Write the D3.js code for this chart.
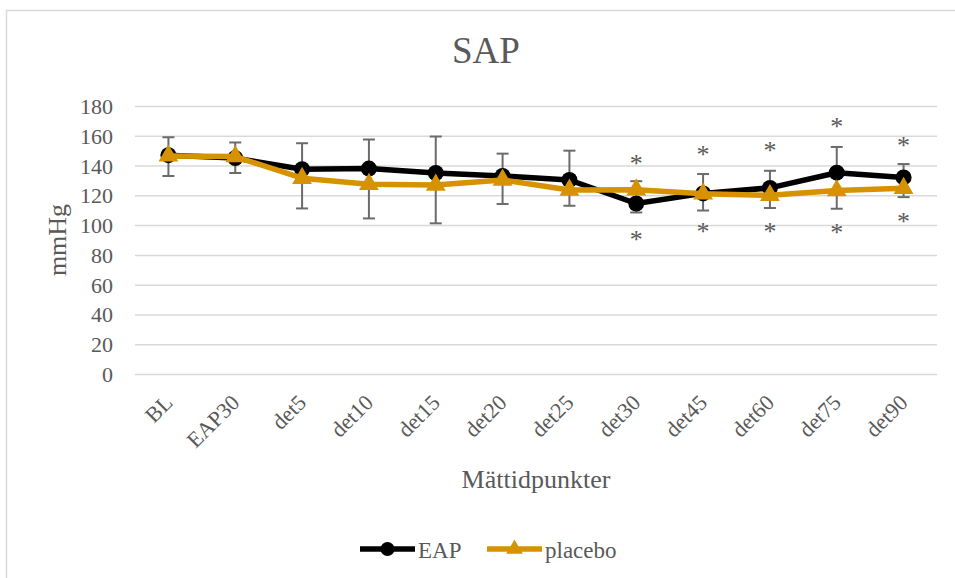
<!DOCTYPE html>
<html lang="sv">
	<head>
		<meta charset="utf-8">
		<title>SAP</title>
		<script type="text/javascript" src="https://cdn.jsdelivr.net/npm/d3@7"></script>
		<style type="text/css">
			body {
				margin: 0;
				background: #fff;
			}
			svg text {
				font-family: "Liberation Serif", "Times New Roman", serif;
				fill: #595959;
			}
		</style>
	</head>
	<body>
		<div id="chart"></div>
		<script type="text/javascript">

			// data
			var categories = ["BL", "EAP30", "det5", "det10", "det15", "det20", "det25", "det30", "det45", "det60", "det75", "det90"];
			var eap = [147, 145, 137.5, 138, 135, 133, 130.3, 114.5, 121.3, 125, 135.2, 132];
			var placebo = [146.5, 146, 131.5, 127.5, 127, 130.3, 123.6, 123.8, 121, 120, 123.2, 124.8];
			var errHigh = [159, 155.5, 155, 157.5, 159.5, 148, 150, 129.5, 134.3, 136.5, 152.5, 141];
			var errLow = [133, 135, 111.2, 104.5, 101.2, 114.2, 113, 108.5, 109.8, 111.5, 111, 118.8];
			// asterisks (value where the star sits), null = none
			var starTop = [null, null, null, null, null, null, null, 144, 150, 152.2, 168.4, 156];
			var starBottom = [null, null, null, null, null, null, null, 92.6, 97.8, 98.3, 97.2, 104.6];
			var yTicks = [0, 20, 40, 60, 80, 100, 120, 140, 160, 180];

			var w = 955, h = 578;
			var plotL = 135, plotR = 937, plotT = 106, plotB = 374;

			var svg = d3.select("#chart")
						.append("svg")
						.attr("width", w)
						.attr("height", h);

			// chart border
			svg.append("rect")
				.attr("x", 6.5).attr("y", 10.5)
				.attr("width", w + 10).attr("height", h + 10)
				.attr("fill", "white")
				.attr("stroke", "#d9d9d9")
				.attr("stroke-width", 1.5);

			var xScale = d3.scalePoint()
						.domain(categories)
						.range([plotL, plotR])
						.padding(0.5);

			var yScale = d3.scaleLinear()
						.domain([0, 180])
						.range([plotB, plotT]);

			// y gridlines + labels
			var yAxis = svg.append("g")
				.attr("transform", "translate(" + plotL + ",0)")
				.call(d3.axisLeft(yScale)
					.tickValues(yTicks)
					.tickSize(-(plotR - plotL))
					.tickPadding(22));
			yAxis.select(".domain").remove();
			yAxis.selectAll("line")
				.attr("stroke", "#d9d9d9")
				.attr("stroke-width", 1.5);
			yAxis.selectAll("text")
				.style("font-size", "22px")
				.attr("dy", "0.34em");

			// x labels, rotated
			var xAxis = svg.append("g")
				.attr("transform", "translate(0," + plotB + ")")
				.call(d3.axisBottom(xScale).tickSize(0).tickPadding(0));
			xAxis.select(".domain").remove();
			xAxis.selectAll("text")
				.style("font-size", "22px")
				.attr("y", 0)
				.attr("dy", 0)
				.attr("text-anchor", "end")
				.attr("transform", "translate(5,30) rotate(-45)");

			// title and axis titles
			svg.append("text")
				.text("SAP")
				.attr("x", 486).attr("y", 63)
				.attr("text-anchor", "middle")
				.style("font-size", "37px");

			svg.append("text")
				.text("mmHg")
				.attr("text-anchor", "middle")
				.attr("transform", "translate(66," + ((plotT + plotB) / 2) + ") rotate(-90)")
				.style("font-size", "26px");

			svg.append("text")
				.text("Mättidpunkter")
				.attr("x", (plotL + plotR) / 2).attr("y", 488)
				.attr("text-anchor", "middle")
				.style("font-size", "26px");

			// error bars
			var eb = svg.append("g").attr("stroke", "#6b6b6b").attr("stroke-width", 2);
			categories.forEach(function(c, i) {
				var x = xScale(c);
				eb.append("line").attr("x1", x).attr("x2", x)
					.attr("y1", yScale(errLow[i])).attr("y2", yScale(errHigh[i]));
				eb.append("line").attr("x1", x - 6).attr("x2", x + 6)
					.attr("y1", yScale(errLow[i])).attr("y2", yScale(errLow[i]));
				eb.append("line").attr("x1", x - 6).attr("x2", x + 6)
					.attr("y1", yScale(errHigh[i])).attr("y2", yScale(errHigh[i]));
			});

			var line = d3.line()
				.x(function(d, i) { return xScale(categories[i]); })
				.y(function(d) { return yScale(d); });

			var gold = "#d69200";
			var triangle = d3.symbol().type(d3.symbolTriangle).size(170);

			// EAP
			svg.append("path")
				.datum(eap)
				.attr("d", line)
				.attr("fill", "none")
				.attr("stroke", "black")
				.attr("stroke-width", 5.5)
				.attr("stroke-linejoin", "round");
			svg.selectAll(".eap")
				.data(eap)
				.enter()
				.append("circle")
				.attr("class", "eap")
				.attr("cx", function(d, i) { return xScale(categories[i]); })
				.attr("cy", function(d) { return yScale(d); })
				.attr("r", 8)
				.attr("fill", "black");

			// placebo
			svg.append("path")
				.datum(placebo)
				.attr("d", line)
				.attr("fill", "none")
				.attr("stroke", gold)
				.attr("stroke-width", 5.5)
				.attr("stroke-linejoin", "round");
			svg.selectAll(".placebo")
				.data(placebo)
				.enter()
				.append("path")
				.attr("class", "placebo")
				.attr("d", triangle)
				.attr("transform", function(d, i) {
					return "translate(" + xScale(categories[i]) + "," + yScale(d) + ")";
				})
				.attr("fill", gold);

			// asterisks
			[starTop, starBottom].forEach(function(arr) {
				svg.selectAll(null)
					.data(arr.map(function(v, i) { return {v: v, c: categories[i]}; })
						.filter(function(d) { return d.v !== null; }))
					.enter()
					.append("text")
					.text("*")
					.attr("x", function(d) { return xScale(d.c); })
					.attr("y", function(d) { return yScale(d.v) + 12; })
					.attr("text-anchor", "middle")
					.style("font-size", "26px");
			});

			// legend
			var lg = svg.append("g");
			lg.append("line").attr("x1", 360).attr("x2", 415).attr("y1", 549).attr("y2", 549)
				.attr("stroke", "black").attr("stroke-width", 5.5);
			lg.append("circle").attr("cx", 387.5).attr("cy", 549).attr("r", 7).attr("fill", "black");
			lg.append("text").text("EAP").attr("x", 418).attr("y", 558).style("font-size", "23px");

			lg.append("line").attr("x1", 487).attr("x2", 542).attr("y1", 549).attr("y2", 549)
				.attr("stroke", gold).attr("stroke-width", 5.5);
			lg.append("path").attr("d", d3.symbol().type(d3.symbolTriangle).size(120))
				.attr("transform", "translate(514.5,549)").attr("fill", gold);
			lg.append("text").text("placebo").attr("x", 545).attr("y", 558).style("font-size", "23px");

		</script>
	</body>
</html>
